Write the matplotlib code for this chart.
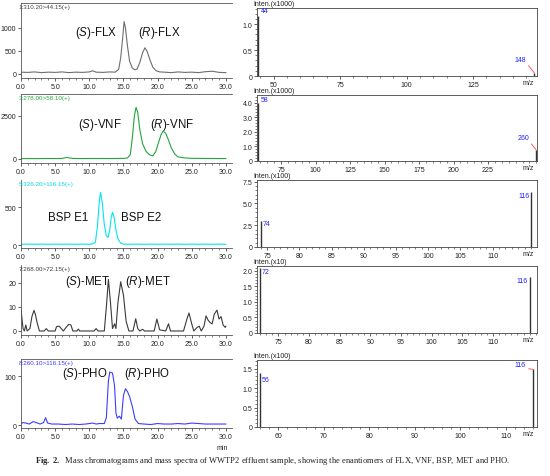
import matplotlib
matplotlib.use("Agg")
import matplotlib.pyplot as plt
from matplotlib.ticker import MultipleLocator, FuncFormatter

plt.rcParams["font.family"] = "Liberation Sans"
plt.rcParams["mathtext.fontset"] = "custom"
plt.rcParams["mathtext.rm"] = "Liberation Sans"
plt.rcParams["mathtext.it"] = "Liberation Sans:italic"
plt.rcParams["mathtext.bf"] = "Liberation Serif:bold"

# chromatograms (time in min, intensity)
flx_t = [0, 1, 2, 3, 4, 5, 6, 7, 8, 9, 10, 10.5, 11, 12, 13, 13.8, 14.3, 14.6, 14.9, 15.1,
         15.3, 15.6, 15.9, 16.3, 16.7, 17.0, 17.4, 17.8, 18.15, 18.5, 18.9, 19.3, 19.8, 20.3,
         21, 22, 23, 24, 25, 26, 27, 28, 29, 30]
flx_v = [40, 35, 45, 30, 40, 35, 45, 30, 40, 35, 45, 70, 40, 35, 45, 40, 100, 350, 800, 1140,
         1000, 600, 280, 130, 90, 110, 250, 460, 570, 480, 300, 150, 70, 45,
         40, 30, 45, 35, 40, 30, 50, 60, 35, 30]

vnf_t = [0, 1, 2, 3, 4, 5, 6, 6.7, 7.5, 8, 9, 10, 11, 12, 13, 14, 15, 15.6, 16.0, 16.3, 16.6,
         16.85, 17.1, 17.4, 17.8, 18.3, 18.8, 19.3, 19.7, 20.1, 20.5, 20.8, 21.2, 21.6, 22.0,
         22.5, 23, 24, 25, 26, 27, 28, 29, 30]
vnf_v = [20, 25, 20, 25, 30, 25, 30, 90, 35, 30, 25, 30, 25, 30, 25, 30, 35, 60, 250, 1200, 2500,
         3000, 2700, 1700, 900, 450, 250, 180, 400, 900, 1400, 1620, 1500, 1100, 650,
         300, 120, 60, 40, 35, 30, 30, 25, 25]

bsp_t = [0, 1, 2, 3, 4, 5, 6, 7, 8, 9, 10, 10.5, 10.9, 11.2, 11.45, 11.65, 11.9, 12.2, 12.5,
         12.75, 13.0, 13.2, 13.4, 13.65, 13.9, 14.2, 14.6, 15, 16, 17, 18, 19, 20, 21, 22, 23,
         24, 25, 26, 27, 28, 29, 30]
bsp_v = [10, 12, 10, 12, 10, 12, 10, 12, 10, 12, 10, 15, 40, 250, 560, 690, 560, 270, 120,
         100, 200, 360, 430, 360, 200, 80, 25, 12, 10, 12, 10, 12, 10, 12, 10, 12,
         10, 12, 10, 12, 10, 12, 10]

met_t = [0.0, 0.3, 0.5, 0.7, 0.9, 1.3, 1.6, 1.9, 2.1, 2.4, 2.7, 3.4, 3.7, 4.0, 5.0, 5.2, 5.6,
         5.9, 6.2, 6.6, 7.0, 7.3, 7.6, 8.2, 8.4, 8.6, 10.7, 11.0, 11.3, 12.2, 12.5, 12.8, 13.1,
         13.4, 13.7, 13.9, 14.2, 14.6, 15.0, 15.4, 15.8, 16.4, 16.8, 17.1, 17.4, 17.8, 18.1,
         19.5, 19.9, 20.3, 21.2, 21.6, 21.9, 23.8, 24.3, 24.6, 25.0, 25.3, 25.8, 26.1, 26.4,
         26.8, 27.1, 27.4, 27.7, 28.0, 28.3, 28.7, 29.0, 29.3, 29.6, 29.9, 30.0]
met_v = [9, 1, 0, 2.5, 0, 1, 6, 8.6, 7, 3, 0, 0, 1, 0, 0, 1.8, 2,
         1, 0, 1.5, 2.8, 2.5, 0, 0, 0.8, 0, 0, 1, 0, 0, 10, 21.5, 12,
         1, 3, 1, 12, 20.5, 15, 4, 0, 0, 5.1, 1, 0, 0.7, 0,
         0, 5, 0.5, 0, 3, 0, 0, 5, 7.5, 3, 0, 1.5, 2, 0,
         2, 6.3, 4.5, 3.5, 3, 7, 8.7, 5, 6, 2.5, 1.5, 2]

pho_t = [0.0, 0.3, 0.7, 1.2, 1.8, 2.2, 2.8, 3.3, 3.6, 3.9, 4.5, 5.5, 6.5, 7.5, 8.5, 9.5, 10.5,
         11.0, 11.5, 12.2, 12.5, 12.8, 13.0, 13.4, 13.7, 13.9, 14.1, 14.4, 14.7, 15.0, 15.3,
         15.6, 15.9, 16.3, 16.7, 17.2, 18, 19, 20, 21, 22, 23, 24, 25, 26, 27, 28, 29, 30]
pho_v = [3, 5, 4, 2, 7, 5, 2, 5, 15, 4, 2, 2, 1, 2, 1, 2, 4,
         2, 3, 3, 15, 90, 108, 106, 80, 25, 14, 18, 12, 60, 74,
         68, 58, 38, 12, 3, 2, 1, 3, 2, 2, 3, 2, 4, 3, 2, 2, 2, 2]

chrom_headers = ["1:310.20>44.15(+)", "3:278.00>58.10(+)", "5:326.20>116.15(+)",
                 "7:268.00>72.15(+)", "8:260.10>116.15(+)"]
peak_labels = [("($\\it{S}$)-FLX", "($\\it{R}$)-FLX"), ("($\\it{S}$)-VNF", "($\\it{R}$)-VNF"),
               ("BSP E1", "BSP E2"), ("($\\it{S}$)-MET", "($\\it{R}$)-MET"),
               ("($\\it{S}$)-PHO", "($\\it{R}$)-PHO")]
label_pos = [((11.0, 913), (20.2, 913)), ((11.6, 2020), (22.1, 2020)), ((6.9, 368), (17.6, 368)),
             ((9.8, 21), (18.6, 21)), ((9.4, 106), (18.4, 106))]

# mass spectra (m/z, intensity)
flx_mz, flx_int = [44, 148], [1.15, 0.06]
vnf_mz, vnf_int = [58, 260], [4.0, 0.75]
bsp_mz, bsp_int = [74, 116], [3.0, 6.3]
met_mz, met_int = [72, 116], [2.1, 1.8]
pho_mz, pho_int = [56, 116], [1.38, 1.48]
spec_scale = ["Inten.(x1000)", "Inten.(x1000)", "Inten.(x100)", "Inten.(x10)", "Inten.(x100)"]
spec_xticks = [[50, 75, 100, 125], [75, 100, 125, 150, 175, 200, 225],
               [75, 80, 85, 90, 95, 100, 105, 110], [75, 80, 85, 90, 95, 100, 105, 110],
               [60, 70, 80, 90, 100, 110]]

W, H = 550, 477
fig = plt.figure(figsize=(W / 100, H / 100), dpi=100)


def rect(left, top, right, bottom):
    return [left / W, 1 - bottom / H, (right - left) / W, (bottom - top) / H]


def tidy_ticks(ax):
    ax.tick_params(axis="both", which="major", labelsize=5, length=2, width=0.5, pad=1.5,
                   colors="#222222")
    ax.tick_params(axis="both", which="minor", length=1.2, width=0.4, colors="#222222")


# left column: chromatograms
chrom = [(flx_t, flx_v, "#6e6e6e", "#444444"), (vnf_t, vnf_v, "#22a63c", "#22a63c"),
         (bsp_t, bsp_v, "#00e5ee", "#00d8e0"), (met_t, met_v, "#3a3a3a", "#3a3a3a"),
         (pho_t, pho_v, "#3c3cff", "#3c3cff")]
chrom_box = [(4, 79), (95, 164), (181, 249), (266, 336), (360, 429)]
chrom_ylim = [(-87, 1543), (-233, 3779), (-39, 855), (-1.67, 27.5), (-6.1, 134.7)]
chrom_yticks = [[0, 500, 1000], [0, 2500], [0, 500], [0, 10, 20], [0, 100]]
has_top = [True, True, False, False, True]

for i, (t, v, col, hcol) in enumerate(chrom):
    top, bot = chrom_box[i]
    ax = fig.add_axes(rect(21, top, 232, bot))
    ax.plot(t, v, color=col, lw=0.8)
    ax.set_xlim(0, 30.9)
    ax.set_ylim(*chrom_ylim[i])
    ax.set_xticks([0, 5, 10, 15, 20, 25, 30])
    ax.xaxis.set_major_formatter(FuncFormatter(lambda x, p: f"{x:.1f}"))
    ax.xaxis.set_minor_locator(MultipleLocator(1))
    ax.set_yticks(chrom_yticks[i])
    tidy_ticks(ax)
    ax.tick_params(axis="y", which="minor", left=False)
    ax.spines["right"].set_visible(False)
    ax.spines["top"].set_visible(has_top[i])
    for s in ["left", "bottom", "top"]:
        ax.spines[s].set_linewidth(0.6)
        ax.spines[s].set_color("#555555")
    ax.text(-0.01, 0.985, chrom_headers[i], transform=ax.transAxes, fontsize=4.5,
            color=hcol, va="top", ha="left")
    for lab, pos in zip(peak_labels[i], label_pos[i]):
        ax.text(pos[0], pos[1], lab, fontsize=8.3, ha="center", va="center", color="#111111")
    if i == 4:
        ax.text(222 / W, 1 - 449 / H, "min", transform=fig.transFigure, fontsize=5,
                ha="center", va="center", color="#222222")

# right column: mass spectra
spec = [(flx_mz, flx_int), (vnf_mz, vnf_int), (bsp_mz, bsp_int), (met_mz, met_int),
        (pho_mz, pho_int)]
spec_box = [(9, 77), (96, 162), (181, 248), (267, 334), (361, 428)]
spec_xlim = [(43.8, 149), (57.5, 260.5), (73.4, 116.9), (71.5, 117.2), (55.3, 116.9)]
spec_ylim = [1.31, 4.55, 7.7, 2.16, 1.72]
spec_xmin = [5, 5, 1, 1, 2]
spec_ymaj = [0.5, 1.0, 2.5, 0.5, 0.5]
spec_ymin = [0.1, 0.2, 0.5, 0.1, 0.1]
# label offsets in pixels (right, down) from bar tip, and whether a red leader is drawn
spec_lab = [[(3, -2, True), (-8, -10, True)],
            [(3, 0, True), (-7, -9, True)],
            [(2, -1, False), (-2, 0, False)],
            [(2, 0, False), (-2, 0, False)],
            [(2, 3, False), (-7, -1, True)]]

for i, (mz, inten) in enumerate(spec):
    top, bot = spec_box[i]
    ax = fig.add_axes(rect(257, top, 537, bot))
    ax.vlines(mz, 0, inten, color="#333333", lw=1.0)
    ax.set_xlim(*spec_xlim[i])
    ax.set_ylim(0, spec_ylim[i])
    ax.set_xticks(spec_xticks[i])
    ax.xaxis.set_minor_locator(MultipleLocator(spec_xmin[i]))
    ax.yaxis.set_major_locator(MultipleLocator(spec_ymaj[i]))
    ax.yaxis.set_minor_locator(MultipleLocator(spec_ymin[i]))
    ax.yaxis.set_major_formatter(FuncFormatter(lambda y, p: "0" if y == 0 else f"{y:.1f}"))
    tidy_ticks(ax)
    for s in ax.spines.values():
        s.set_linewidth(0.6)
        s.set_color("#444444")
    fig.text(253 / W, 1 - (top - 1) / H, spec_scale[i], fontsize=5, ha="left", va="bottom",
             color="#222222")
    fig.text(528 / W, 1 - (bot + 7) / H, "m/z", fontsize=5, ha="center", va="center",
             color="#222222")
    for m, h, (dx, dy, lead) in zip(mz, inten, spec_lab[i]):
        ha = "left" if dx > 0 else "right"
        arrow = None
        if lead:
            arrow = dict(arrowstyle="-", color="#ff4040", lw=0.6, shrinkA=0, shrinkB=0,
                         relpos=(0, 0) if dx > 0 else (1, 0))
        ax.annotate(str(m), xy=(m, h), xytext=(dx * 0.72, -dy * 0.72),
                    textcoords="offset points", fontsize=5, color="#2020ff", ha=ha,
                    va="bottom" if lead else "top", arrowprops=arrow)

fig.text(35 / W, 1 - 461 / H,
         "$\\mathbf{Fig.\\ 2.}$  Mass chromatograms and mass spectra of WWTP2 effluent sample, "
         "showing the enantiomers of FLX, VNF, BSP, MET and PHO.",
         fontsize=6.1, family="Liberation Serif", ha="left", va="center", color="#222222")

fig.savefig("out.png", dpi=100)
